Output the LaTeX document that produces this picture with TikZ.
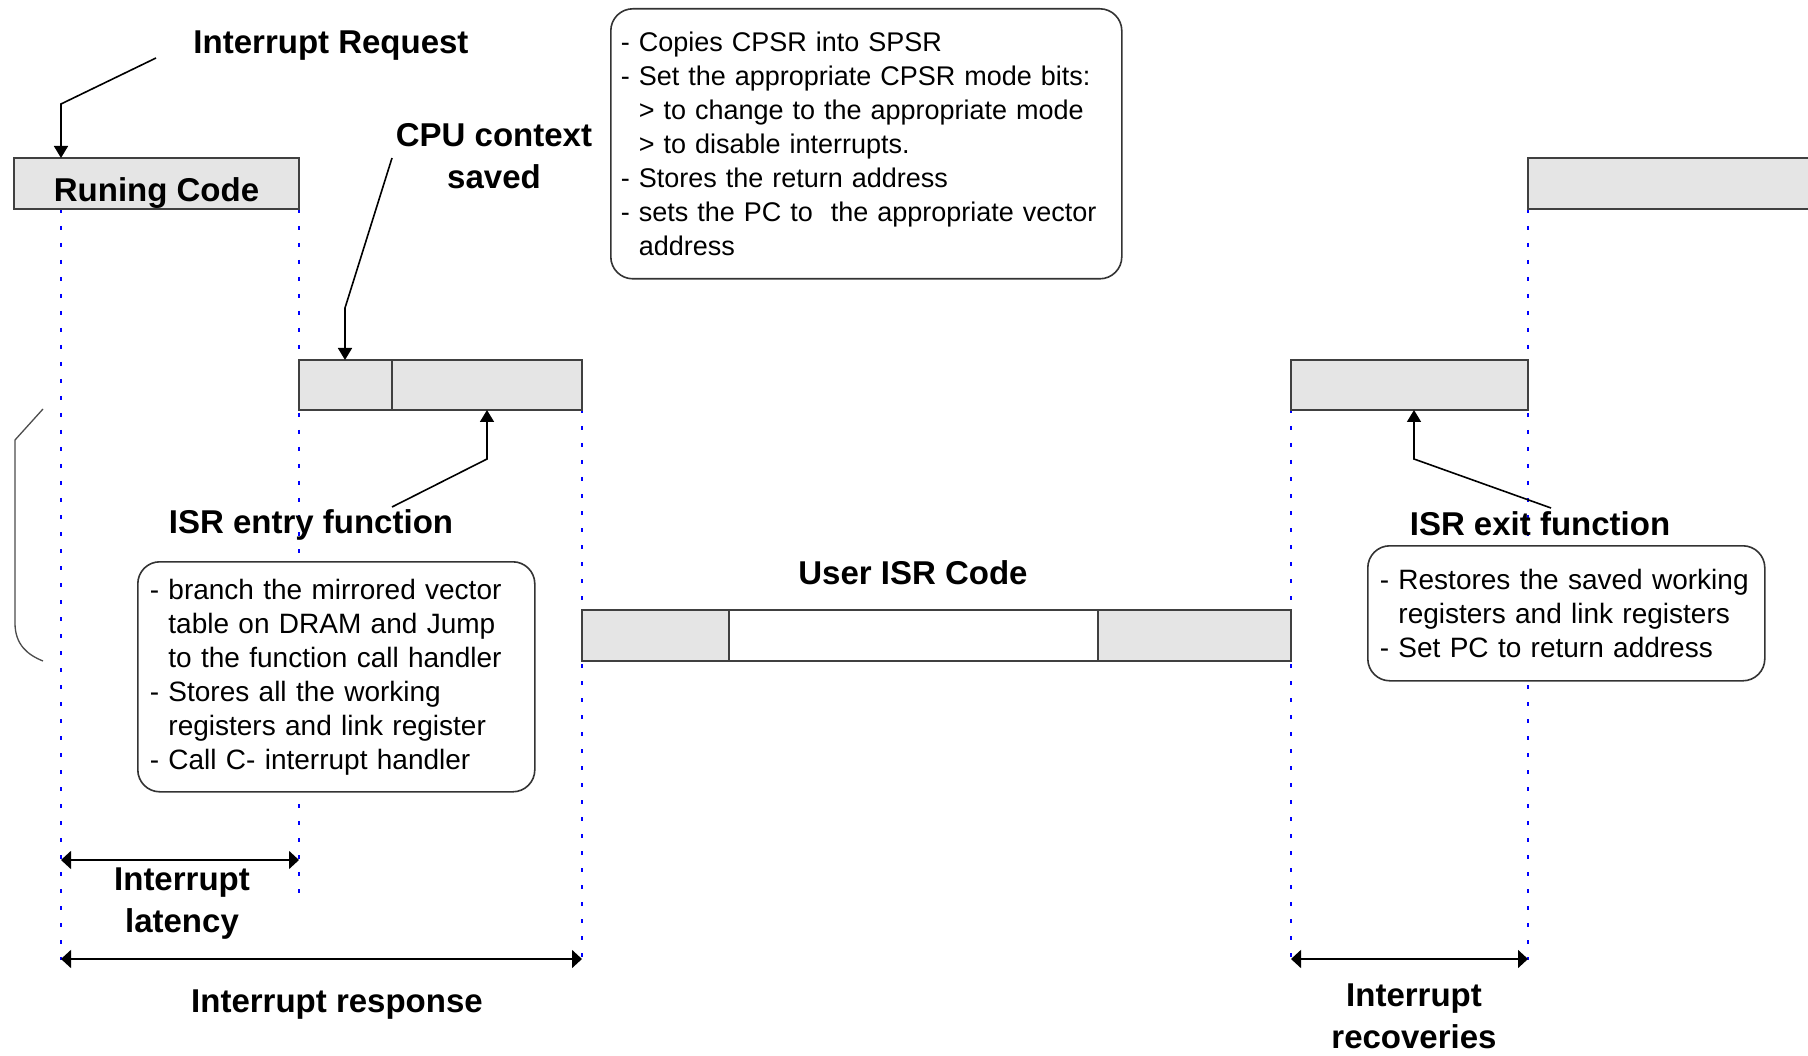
\documentclass[tikz,border=0pt]{standalone}
\usepackage{fontspec}
\setmainfont{Liberation Sans}
\usetikzlibrary{arrows.meta, positioning}

\tikzset{
  seg/.style={rectangle, draw=black!75, line width=1.6pt, fill=gray!20, minimum height=50pt, inner sep=0pt, outer sep=0pt, anchor=north west},
  note/.style={rectangle, draw=black!80, line width=1.6pt, rounded corners=22pt, fill=white, align=left, inner xsep=12pt, anchor=north west, font=\fontsize{28}{34}\selectfont},
  head/.style={font=\bfseries\fontsize{33}{42}\selectfont, align=center},
  arr/.style={line width=1.6pt, -{Triangle[length=12pt,width=14pt]}},
  dim/.style={line width=1.6pt, {Triangle[length=10pt,width=18pt]}-{Triangle[length=10pt,width=18pt]}},
  guide/.style={blue, line width=1.5pt, dash pattern=on 4pt off 13pt},
}

\begin{document}
\begin{tikzpicture}[x=1pt, y=-1pt]
        \fill[white] (0,0) rectangle (1808,1056);
        \useasboundingbox (0,0) rectangle (1808,1056);

        % Time marks
        \foreach \x/\a/\b in {61/209/960, 299/209/899, 582/409/960, 1291/409/960, 1528/209/960}
            \draw[guide] (\x,\a) -- (\x,\b);

        % Code segments
        \node[seg, minimum width=285pt, minimum height=51pt] (run) at (14,158) {\smash{\raisebox{-18pt}{\bfseries\fontsize{33}{40}\selectfont Runing Code}}};
        \node[seg, minimum width=300pt, minimum height=51pt] (run2) at (1528,158) {};
        \node[seg, minimum width=93pt] (ctx) at (299,360) {};
        \node[seg, minimum width=190pt, right=0pt of ctx] (entry) {};
        \node[seg, minimum width=237pt] (exitseg) at (1291,360) {};
        \node[seg, minimum width=147pt, minimum height=51pt] (uisr1) at (582,610) {};
        \node[seg, minimum width=369pt, minimum height=51pt, fill=white, right=0pt of uisr1] (uisr2) {};
        \node[seg, minimum width=193pt, minimum height=51pt, right=0pt of uisr2] (uisr3) {};

        % Left brace
        \draw[black!70, line width=1.3pt] (43,409) -- (15,440) -- (15,623) .. controls (15,645) and (28,655) .. (43,661);

        % Notes
        \node[note, text width=491pt, inner xsep=10pt, minimum height=270pt, font=\fontsize{27}{34}\selectfont] (mode) at (610,8) {%
            - Copies CPSR into SPSR\\
            - Set the appropriate CPSR mode bits:\\
            \hphantom{- }> to change to the appropriate mode\\
            \hphantom{- }> to disable interrupts.\\
            - Stores the return address\\
            - sets the PC to\ \ the appropriate vector\\
            \hphantom{- }address};
        \node[note, text width=373pt, minimum height=230pt] (entrynote) at (137,561) {%
            - branch the mirrored vector\\
            \hphantom{- }table on DRAM and Jump\\
            \hphantom{- }to the function call handler\\
            - Stores all the working\\
            \hphantom{- }registers and link register\\
            - Call C- interrupt handler};
        \node[note, text width=373pt, minimum height=135pt] (exitnote) at (1367,545) {%
            - Restores the saved working\\
            \hphantom{- }registers and link registers\\
            - Set PC to return address};

        % Labels
        \node[head] (irq) at (331,46) {Interrupt Request};
        \node[head] (ctxlabel) at (494,156) {CPU context\\saved};
        \node[head] (entrylabel) at (311,525) {ISR entry function};
        \node[head] (exitlabel) at (1540,524) {ISR exit function};
        \node[head] (uisrlabel) at (913,573) {User ISR Code};
        \node[head] (latlabel) at (182,904) {Interrupt\\latency};
        \node[head] (resplabel) at (337,1005) {Interrupt response};
        \node[head] (reclabel) at (1414,1016) {Interrupt\\recoveries};

        % Pointers
        \coordinate (irqtail) at (156,58);
        \coordinate (irqbend) at (61,104);
        \draw[arr] (irqtail) -- (irqbend) -- (irqbend |- run.north);
        \coordinate (ctxtail) at (392,158);
        \coordinate (ctxbend) at (345,308);
        \draw[arr] (ctxtail) -- (ctxbend) -- (ctxbend |- ctx.north);
        \coordinate (entrytail) at (392,507);
        \coordinate (entrybend) at (487,459);
        \draw[arr] (entrytail) -- (entrybend) -- (entrybend |- entry.south);
        \coordinate (exittail) at (1551,508);
        \coordinate (exitbend) at (1414,459);
        \draw[arr] (exittail) -- (exitbend) -- (exitbend |- exitseg.south);

        % Intervals
        \coordinate (latL) at (61,860);
        \coordinate (latR) at (299,860);
        \draw[dim] (latL) -- (latR);
        \coordinate (respL) at (61,959);
        \coordinate (respR) at (582,959);
        \draw[dim] (respL) -- (respR);
        \coordinate (recL) at (1291,959);
        \coordinate (recR) at (1528,959);
        \draw[dim] (recL) -- (recR);
    \end{tikzpicture}
\end{document}
